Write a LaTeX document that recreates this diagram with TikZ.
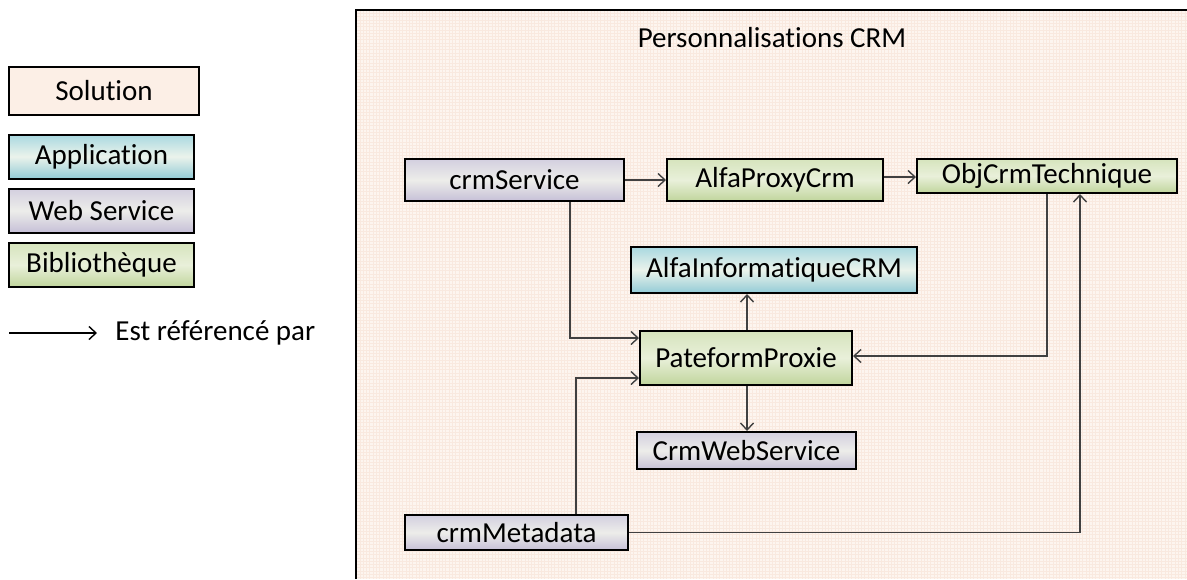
\documentclass[tikz,border=0pt]{standalone}
\usepackage{fontspec}
\setmainfont{Carlito}[Ligatures=NoCommon]
\usetikzlibrary{arrows.meta}
\usetikzlibrary{calc}
\definecolor{peach}{HTML}{FDF5EF}
\definecolor{peachgrid}{HTML}{F9E9DF}
\definecolor{solfill}{HTML}{FCEFE6}
\definecolor{appTop}{HTML}{A9D8E0}
\definecolor{appMid}{HTML}{EBF3EB}
\definecolor{appBot}{HTML}{93CBD6}
\definecolor{wsTop}{HTML}{D3CFDF}
\definecolor{wsMid}{HTML}{EDEDEA}
\definecolor{wsBot}{HTML}{C6C0D7}
\definecolor{libTop}{HTML}{D6E4BD}
\definecolor{libMid}{HTML}{E9F0DA}
\definecolor{libBot}{HTML}{C0D59C}
\definecolor{linkgray}{HTML}{404040}

\begin{document}
\begin{tikzpicture}[x=0.5pt,y=-0.5pt,>={Straight Barb[length=3.5pt,width=6.5pt]}]
        \useasboundingbox (0,0) rectangle (1187,579);
        \tikzstyle{box}=[draw=black,line width=1pt,rectangle,inner sep=0pt,font=\fontsize{14.5pt}{16pt}\selectfont]
        \tikzstyle{solbox}=[box,fill=solfill]
        \tikzstyle{appbox}=[box,top color=appTop,bottom color=appBot,middle color=appMid]
        \tikzstyle{wsbox}=[box,top color=wsTop,bottom color=wsBot,middle color=wsMid]
        \tikzstyle{libbox}=[box,top color=libTop,bottom color=libBot,middle color=libMid]
        \tikzstyle{link}=[->,draw=linkgray,line width=0.7pt]

        % solution frame
        \fill[peach] (356,10) rectangle (1187,579);
        \draw[peachgrid,line width=0.15pt,step=1.65pt] (356,10) grid (1187,579);
        \draw[line width=1pt] (356,579) -- (356,10) -- (1187,10);
        \node[font=\fontsize{14.5pt}{16pt}\selectfont] (title) at (772,38) {Personnalisations CRM};

        % legend
        \node[solbox,minimum width=95pt,minimum height=24pt] (sol) at (104,91) {Solution};
        \foreach \y/\n/\s/\t in {156.5/app/appbox/Application, 210.5/ws/wsbox/Web Service, 265/lib/libbox/Bibliothèque} {
            \node[\s,minimum width=92.5pt,minimum height=22pt] (\n) at (101.5,\y) {\t};
        }
        \coordinate (lgstart) at (9,333);
        \node[anchor=west,inner sep=0pt,font=\fontsize{14.5pt}{16pt}\selectfont] (lgtxt) at (115,333) {Est référencé par};
        \draw[->,line width=0.7pt] (lgstart) -- ([xshift=-9pt]lgtxt.west);

        % projects
        \node[wsbox,minimum width=109.5pt,minimum height=21pt] (srv) at (514.5,180) {crmService};
        \node[libbox,minimum width=108pt,minimum height=21pt] (apc) at (775,180) {AlfaProxyCrm};
        \node[libbox,minimum width=130pt,minimum height=17pt] (obj) at (1047,176) {ObjCrmTechnique};
        \node[appbox,minimum width=143pt,minimum height=23pt] (aic) at (774,270) {AlfaInformatiqueCRM};
        \node[libbox,minimum width=106pt,minimum height=27pt] (ppx) at (746,358) {PateformProxie};
        \node[wsbox,minimum width=109.5pt,minimum height=18.5pt] (cws) at (746.5,450.5) {CrmWebService};
        \node[wsbox,minimum width=111.5pt,minimum height=17.5pt] (meta) at (516.5,532.5) {crmMetadata};

        % references
        \draw[link] (srv) -- (apc);
        \draw[link] ([yshift=1.5pt]apc.east) -- ([yshift=1.5pt]apc.east -| obj.west);
        \draw[link] ([xshift=27.75pt]srv.south) |- ([yshift=10pt]ppx.west);
        \draw[link] ([xshift=29.75pt]meta.north) |- ([yshift=-10pt]ppx.west);
        \draw[link] ([xshift=0.5pt]ppx.north) -- ([xshift=0.5pt]ppx.north |- aic.south);
        \draw[link] ([xshift=0.5pt]ppx.south) -- ([xshift=0.5pt]ppx.south |- cws.north);
        \draw[link] (obj.south) |- ([yshift=1pt]ppx.east);
        \draw[link] (meta.east) -| ([xshift=16.5pt]obj.south);

    \end{tikzpicture}
\end{document}
